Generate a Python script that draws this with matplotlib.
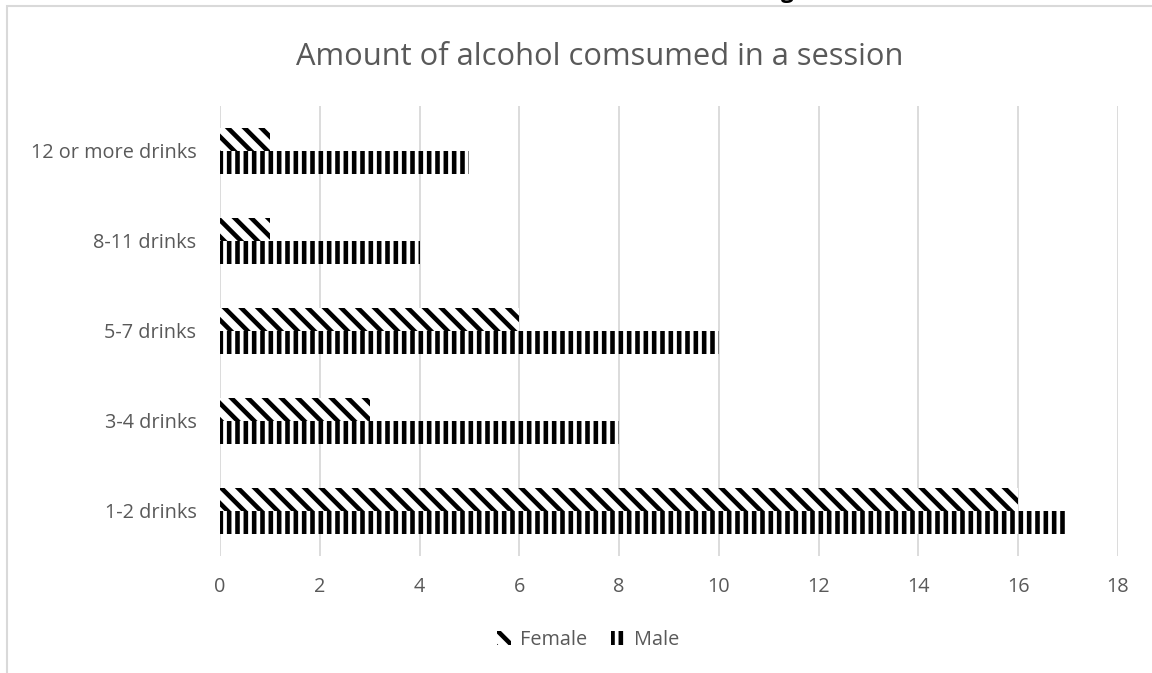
import matplotlib.pyplot as plt
import matplotlib.patches as mpatches
import numpy as np

plt.rcParams['font.family'] = ['Open Sans', 'DejaVu Sans']
plt.rcParams['hatch.linewidth'] = 3.3

categories = ["1-2 drinks", "3-4 drinks", "5-7 drinks", "8-11 drinks", "12 or more drinks"]
female = [16, 3, 6, 1, 1]
male = [17, 8, 10, 4, 5]
xticks = [0, 2, 4, 6, 8, 10, 12, 14, 16, 18]

GREY = '#595959'

fig = plt.figure(figsize=(11.52, 6.73), dpi=100)
ax = fig.add_axes([220/1152, 1 - 556/673, 898/1152, 450/673])

y = np.arange(len(categories))
h = 0.26
ax.barh(y + h/2, female, height=h, color='white', edgecolor='black', linewidth=0,
        hatch='\\\\', label='Female', zorder=3)
ax.barh(y - h/2, male, height=h, color='white', edgecolor='black', linewidth=0,
        hatch='||', label='Male', zorder=3)

ax.set_xlim(0, 18)
ax.set_ylim(-0.5, len(categories) - 0.5)
ax.set_xticks(xticks)
ax.set_yticks(y)
ax.set_yticklabels(categories)
ax.tick_params(axis='both', length=0, labelsize=14.3, labelcolor=GREY)
ax.tick_params(axis='x', pad=15)
ax.tick_params(axis='y', pad=17)
ax.grid(axis='x', color='#d9d9d9', linewidth=1.3, zorder=0)
for s in ax.spines.values():
    s.set_visible(False)

fig.text(600/1152, 1 - 57/673, "Amount of alcohol comsumed in a session",
         ha='center', va='center', fontsize=22.2, color=GREY)

ax.legend(loc='center', bbox_to_anchor=(588/1152, 1 - 640/673), bbox_transform=fig.transFigure,
          ncol=2, frameon=False, fontsize=14.3, labelcolor=GREY,
          handlelength=0.7, handleheight=0.7, handletextpad=0.45, columnspacing=1.2)

# outer chart frame
fig.patches.append(mpatches.Rectangle((7/1152, -0.1), 1.2, 1 - 6/673 + 0.1,
                                      transform=fig.transFigure, fill=False,
                                      edgecolor='#d9d9d9', linewidth=1.5))
fig.text(787/1152, 1 + 2/673, "g", ha='center', va='baseline', fontsize=16,
         fontweight='bold', color='black')

fig.savefig('out.png', dpi=100)
